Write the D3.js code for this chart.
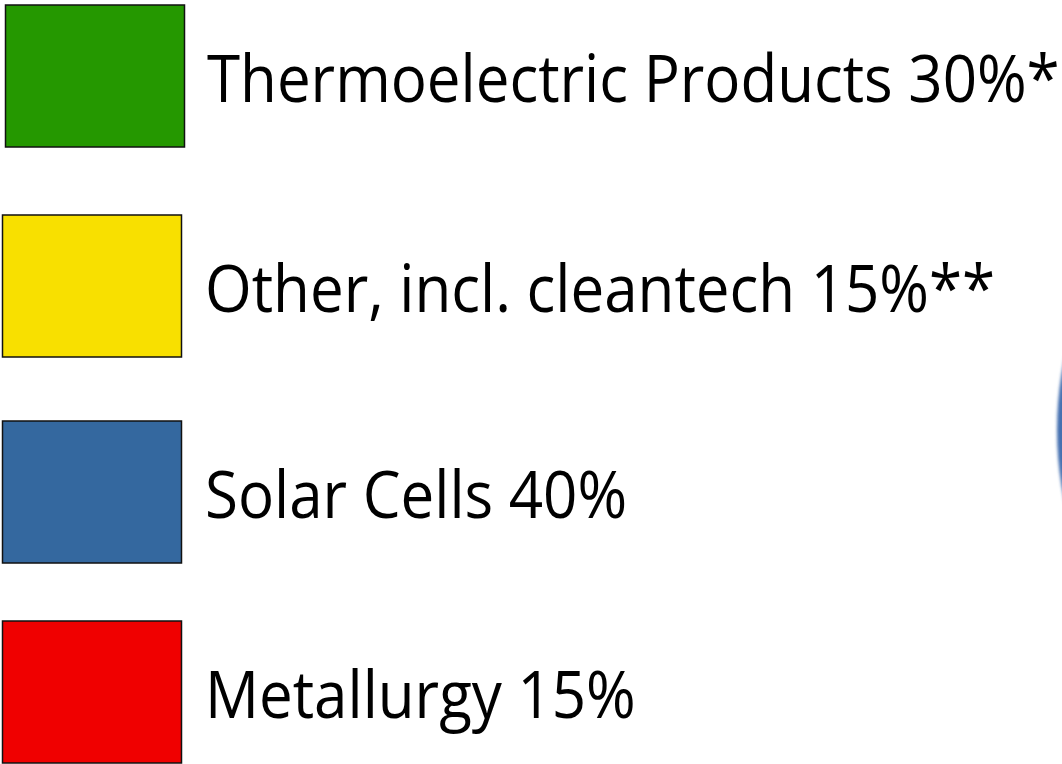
<!DOCTYPE html>
<html>
<head>
<meta charset="utf-8">
<script src="https://cdn.jsdelivr.net/npm/d3@7"></script>
<style>
	html, body { margin: 0; padding: 0; background: #fff; }
	svg { display: block; }
	.label { font-family: "Open Sans", "Noto Sans", sans-serif; fill: #000; }
</style>
</head>
<body>
<div id="chart"></div>
<script>
// data
const categories = ['Thermoelectric Products', 'Other, incl. cleantech', 'Solar Cells', 'Metallurgy'];
const shares = [30, 15, 40, 15];
const marks = ['*', '**', '', ''];
const colors = ['#259800', '#f8e000', '#34689f', '#f00000'];

const width = 1062;
const height = 764;

const svg = d3.select('#chart').append('svg')
	.attr('width', width)
	.attr('height', height);

//pie, mostly off to the right, only the left edge shows
const defs = svg.append('defs');
defs.append('filter').attr('id', 'soft')
	.append('feGaussianBlur').attr('stdDeviation', 1.6);

const pie = d3.pie().sort(null).value(d => d);
const r = 352;
const arc = d3.arc().innerRadius(0).outerRadius(r);

const pieG = svg.append('g')
	.attr('transform', `translate(${1057 + r},430)`)
	.attr('filter', 'url(#soft)');
pieG.selectAll('path')
	.data(pie(shares))
	.enter().append('path')
	.attr('d', arc)
	.style('fill', (d, i) => i === 2 ? '#4570b0' : colors[i]);

//legend rows, one per category
const y = d3.scaleLinear()
	.domain([0, categories.length - 1])
	.range([5, 621]);

const rows = svg.selectAll('.row')
	.data(categories)
	.enter().append('g')
	.attr('class', 'row')
	.attr('transform', (d, i) => `translate(0,${Math.round(y(i)) + (i === 1 || i === 2 ? 5 : 0)})`);

rows.append('rect')
	.attr('x', (d, i) => i === 0 ? 5.5 : 2.5)
	.attr('y', 0)
	.attr('width', 179)
	.attr('height', 142)
	.style('fill', (d, i) => colors[i])
	.style('stroke', '#111')
	.style('stroke-width', 1.5);

rows.append('text')
	.attr('class', 'label')
	.attr('transform', (d, i) => `translate(${i === 0 ? 207 : 205},97) scale(0.91,1)`)
	.style('font-size', '66px')
	.text((d, i) => `${d} ${shares[i]}%${marks[i]}`);
</script>
</body>
</html>
